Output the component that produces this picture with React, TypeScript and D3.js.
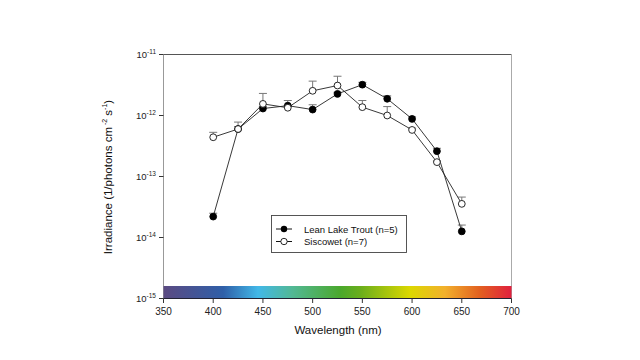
import React from "react";
import * as d3 from "d3";

const wavelengths = [400, 425, 450, 475, 500, 525, 550, 575, 600, 625, 650];
const leanTrout = [2.2e-14, 6.0e-13, 1.3e-12, 1.45e-12, 1.25e-12, 2.26e-12, 3.2e-12, 1.88e-12, 8.8e-13, 2.6e-13, 1.26e-14];
const leanTroutErr = [2.5e-14, 6.6e-13, 1.4e-12, 1.76e-12, 1.5e-12, 2.4e-12, 3.5e-12, 2.1e-12, 9.5e-13, 2.9e-13, 1.6e-14];
const siscowet = [4.4e-13, 6.0e-13, 1.55e-12, 1.34e-12, 2.54e-12, 3.1e-12, 1.37e-12, 1.0e-12, 5.8e-13, 1.72e-13, 3.56e-14];
const siscowetErr = [5.3e-13, 7.8e-13, 2.3e-12, 1.45e-12, 3.66e-12, 4.4e-12, 1.76e-12, 1.4e-12, 6.2e-13, 1.8e-13, 4.6e-14];
const xTicks = [350, 400, 450, 500, 550, 600, 650, 700];
const yExponents = [-11, -12, -13, -14, -15];
const spectrumStops: [number, string][] = [
  [350, "#5b4a82"], [410, "#2f5fa8"], [445, "#42b8e8"], [480, "#52b894"], [528, "#4aa82c"],
  [548, "#6aae1c"], [598, "#dcd800"], [633, "#f2b02c"], [668, "#e26020"], [700, "#e0203e"],
];

const FONT = "'Liberation Sans', Arial, sans-serif";

export default function App() {
  const x = d3.scaleLinear().domain([350, 700]).range([163.5, 511.5]);
  const y = d3.scaleLog().domain([1e-15, 1e-11]).range([298.5, 54.5]);
  const line = d3.line<[number, number]>().x((d) => x(d[0])).y((d) => y(d[1]));
  const lt = wavelengths.map((w, i) => [w, leanTrout[i]] as [number, number]);
  const sc = wavelengths.map((w, i) => [w, siscowet[i]] as [number, number]);
  const r = 3.4;

  const errBars = (vals: number[], errs: number[], key: string) =>
    wavelengths.map((w, i) => (
      <g key={key + i} stroke="#777" strokeWidth={1}>
        <line x1={x(w)} x2={x(w)} y1={y(vals[i])} y2={y(errs[i])} />
        <line x1={x(w) - 4} x2={x(w) + 4} y1={y(errs[i])} y2={y(errs[i])} />
      </g>
    ));

  return (
    <svg width={640} height={360} style={{ position: "absolute", left: 0, top: 0 }} fontFamily={FONT}>
      <defs>
        <linearGradient id="spec" x1="0" x2="1" y1="0" y2="0">
          {spectrumStops.map(([w, c], i) => (
            <stop key={i} offset={(w - 350) / 350} stopColor={c} />
          ))}
        </linearGradient>
      </defs>
      <rect width={640} height={360} fill="#fff" />
      {/* frame */}
      <line x1={163.5} x2={511.5} y1={54.5} y2={54.5} stroke="#555" />
      <line x1={511.5} x2={511.5} y1={54.5} y2={298.5} stroke="#aaa" />
      <line x1={163.5} x2={163.5} y1={54.5} y2={298.5} stroke="#999" />
      {/* spectrum bar */}
      <rect x={163.5} y={286} width={348} height={12.5} fill="url(#spec)" />
      <line x1={163.5} x2={511.5} y1={298.5} y2={298.5} stroke="#223" />
      {/* y ticks */}
      {yExponents.map((e) => (
        <g key={e}>
          <line x1={159} x2={163.5} y1={y(Math.pow(10, e))} y2={y(Math.pow(10, e))} stroke="#333" />
          <text x={156} y={y(Math.pow(10, e)) + 3.5} fontSize={9.5} textAnchor="end" fill="#222">
            10<tspan fontSize={6.5} dy={-4}>{e}</tspan>
          </text>
        </g>
      ))}
      {/* x ticks */}
      {xTicks.map((t) => (
        <g key={t}>
          <line x1={x(t)} x2={x(t)} y1={298.5} y2={303} stroke="#333" />
          <text x={x(t)} y={315} fontSize={10} textAnchor="middle" fill="#222">{t}</text>
        </g>
      ))}
      {/* labels */}
      <text x={338} y={334} fontSize={11.5} textAnchor="middle" fill="#111">Wavelength (nm)</text>
      <text transform="translate(112,177) rotate(-90)" fontSize={11.5} textAnchor="middle" fill="#111">
        Irradiance (1/photons cm<tspan fontSize={7} dy={-5}> -2</tspan><tspan dy={5}> s</tspan><tspan fontSize={7} dy={-5}>-1</tspan><tspan dy={5}>)</tspan>
      </text>
      {/* error bars */}
      {errBars(leanTrout, leanTroutErr, "l")}
      {errBars(siscowet, siscowetErr, "s")}
      {/* lines */}
      <path d={line(lt) || ""} fill="none" stroke="#222" strokeWidth={0.9} />
      <path d={line(sc) || ""} fill="none" stroke="#222" strokeWidth={0.9} />
      {lt.map((d, i) => (
        <circle key={"lt" + i} cx={x(d[0])} cy={y(d[1])} r={r} fill="#000" stroke="#000" strokeWidth={0.9} />
      ))}
      {sc.map((d, i) => (
        <circle key={"sc" + i} cx={x(d[0])} cy={y(d[1])} r={r} fill="#fff" stroke="#111" strokeWidth={0.9} />
      ))}
      {/* legend */}
      <rect x={271.5} y={215.5} width={135} height={37} fill="#fff" stroke="#444" strokeWidth={0.9} />
      <line x1={276} x2={292} y1={229} y2={229} stroke="#111" />
      <circle cx={284} cy={229} r={3.2} fill="#000" />
      <text x={304} y={232.5} fontSize={9.5} fill="#111">Lean Lake Trout (n=5)</text>
      <line x1={276} x2={292} y1={241.5} y2={241.5} stroke="#111" />
      <circle cx={284} cy={241.5} r={3.2} fill="#fff" stroke="#111" strokeWidth={0.9} />
      <text x={304} y={245} fontSize={9.5} fill="#111">Siscowet (n=7)</text>
    </svg>
  );
}
